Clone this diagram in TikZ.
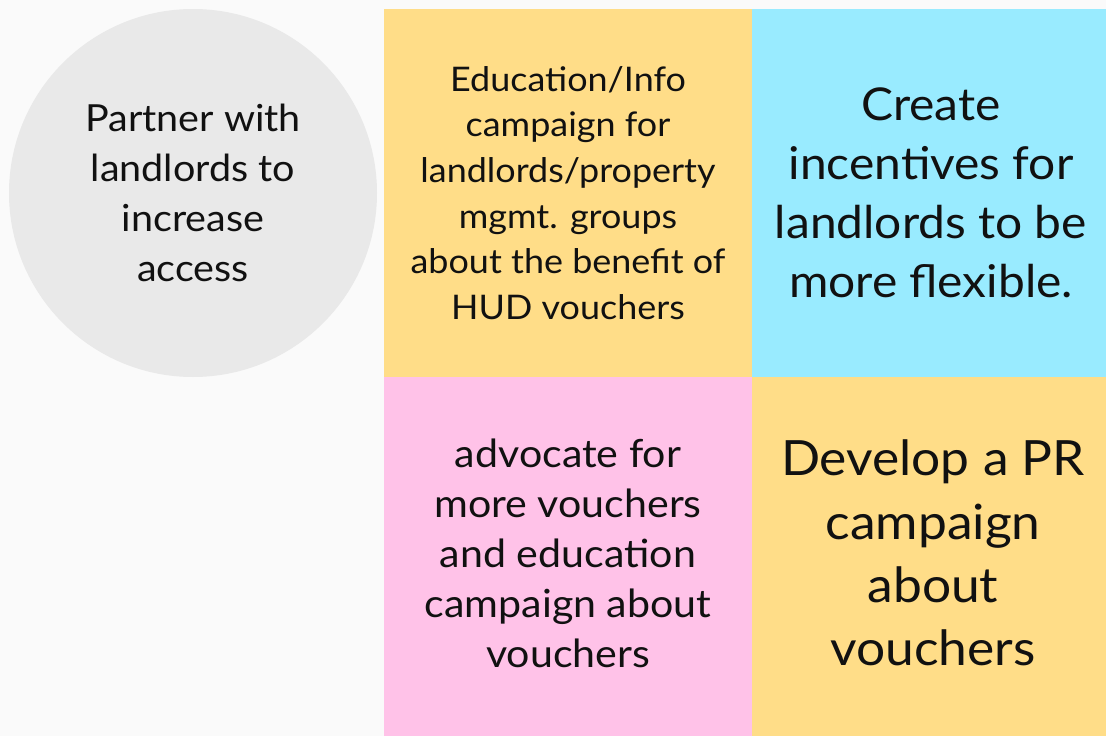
\documentclass[tikz,border=0pt]{standalone}
\usepackage{fontspec}
\setmainfont{Lato}[FakeStretch=1.06]
\definecolor{bg}{HTML}{FAFAFA}
\definecolor{circ}{HTML}{E9E9E9}
\definecolor{yel}{HTML}{FFDD88}
\definecolor{cya}{HTML}{99EBFF}
\definecolor{pnk}{HTML}{FFC2E8}
\definecolor{txt}{HTML}{111111}
\tikzset{
  sticky/.style={inner sep=0pt, text=txt, align=center},
}
\begin{document}
\begin{tikzpicture}[x=1pt,y=-1pt]
\fill[bg] (0,0) rectangle (1106,736);
\useasboundingbox (0,0) rectangle (1106,736);
\fill[circ] (193,193) circle (184);
\fill[yel] (384,9) rectangle (752,377);
\fill[cya] (752,9) rectangle (1106,377);
\fill[pnk] (384,377) rectangle (752,736);
\fill[yel] (752,377) rectangle (1106,736);
\node[sticky, font=\fontsize{37.3}{50}\selectfont] (c) at (193,193) {Partner with\\landlords to\\increase\\access};
\node[sticky, font=\fontsize{33.9}{45.6}\selectfont] (y1) at (568,193) {Education/Info\\campaign for\\landlords/property\\mgmt. groups\\about the benefit of\\HUD vouchers};
\node[sticky, font=\fontsize{45.2}{59}\selectfont] (cy) at (931,193) {Create\\incentives for\\landlords to be\\more flexible.};
\node[sticky, font=\fontsize{38.8}{50}\selectfont] (pk) at (568,553) {advocate for\\more vouchers\\and education\\campaign about\\vouchers};
\node[sticky, font=\fontsize{48.6}{63.3}\selectfont] (y2) at (933,553) {Develop a PR\\campaign\\about\\vouchers};
\end{tikzpicture}
\end{document}
